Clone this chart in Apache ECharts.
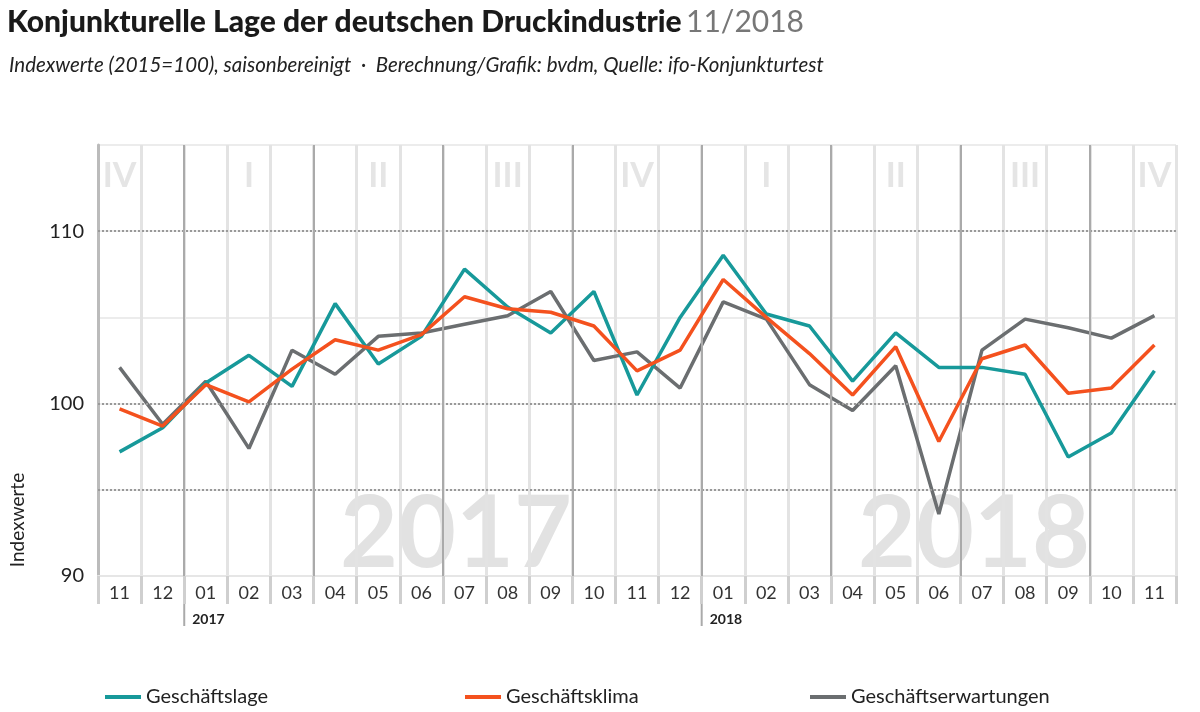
<!DOCTYPE html>
<html>
<head>
<meta charset="utf-8">
<script src="https://cdn.jsdelivr.net/npm/echarts@6/dist/echarts.min.js"></script>
<style>html,body{margin:0;padding:0;background:#fff}#chart{width:1200px;height:712px}</style>
</head>
<body>
<div id="chart"></div>
<script>
// Monate 11/2016 - 11/2018
const months = ['11', '12', '01', '02', '03', '04', '05', '06', '07', '08', '09', '10', '11', '12',
  '01', '02', '03', '04', '05', '06', '07', '08', '09', '10', '11']
const lage = [97.2, 98.6, 101.2, 102.8, 101.0, 105.8, 102.3, 103.9, 107.8, 105.6, 104.1, 106.5, 100.5, 105.0,
  108.6, 105.2, 104.5, 101.3, 104.1, 102.1, 102.1, 101.7, 96.9, 98.3, 101.9]
const klima = [99.7, 98.7, 101.1, 100.1, 102.0, 103.7, 103.1, 104.0, 106.2, 105.5, 105.3, 104.5, 101.9, 103.1,
  107.2, 105.0, 102.9, 100.5, 103.3, 97.8, 102.6, 103.4, 100.6, 100.9, 103.4]
const erwartung = [102.1, 98.8, 101.3, 97.4, 103.1, 101.7, 103.9, 104.1, 104.6, 105.1, 106.5, 102.5, 103.0, 100.9,
  105.9, 104.9, 101.1, 99.6, 102.2, 93.6, 103.1, 104.9, 104.4, 103.8, 105.1]
const quarters = ['IV', 'I', 'II', 'III', 'IV', 'I', 'II', 'III', 'IV']
const quarterCenters = [0.5, 3.5, 6.5, 9.5, 12.5, 15.5, 18.5, 21.5, 24.5]
const quarterBounds = [2, 5, 8, 11, 14, 17, 20, 23]
const years = [{ name: '2017', at: 2 }, { name: '2018', at: 14 }]

const font = 'Lato, "Noto Sans", sans-serif'
const myEchart = echarts.init(document.querySelector('#chart'))

const option = {
  animation: false,
  textStyle: { fontFamily: font },
  title: [
    {
      text: '{b|Konjunkturelle Lage der deutschen Druckindustrie} {l|11/2018}',
      left: 2,
      top: 2,
      textStyle: {
        rich: {
          b: { fontSize: 30, fontWeight: 900, color: '#1a1a1a', fontFamily: font },
          l: { fontSize: 30, fontWeight: 'normal', color: '#777', fontFamily: font },
        },
      },
    },
    {
      text: 'Indexwerte (2015=100), saisonbereinigt  ·  Berechnung/Grafik: bvdm, Quelle: ifo-Konjunkturtest',
      left: 4,
      top: 50,
      textStyle: { fontSize: 20.5, fontStyle: 'italic', fontWeight: 'normal', color: '#222', fontFamily: font },
    },
  ],
  graphic: [
    { type: 'text', left: 340, top: 485, z: 0, style: { text: '2017', fontSize: 100, fontWeight: 'bold', fill: '#e2e2e2', fontFamily: font } },
    { type: 'text', left: 858, top: 485, z: 0, style: { text: '2018', fontSize: 100, fontWeight: 'bold', fill: '#e2e2e2', fontFamily: font } },
    {
      type: 'text', x: 18, y: 520, rotation: Math.PI / 2,
      style: { text: 'Indexwerte', fontSize: 19, fill: '#222', fontFamily: font, textAlign: 'center', textVerticalAlign: 'middle' },
    },
  ],
  grid: { left: 98, right: 24, top: 145, bottom: 136 },
  legend: [
    { data: ['Geschäftslage'], left: 100, top: 682 },
    { data: ['Geschäftsklima'], left: 460, top: 682 },
    { data: ['Geschäftserwartungen'], left: 805, top: 682 },
  ].map((l) => ({
    ...l,
    icon: 'rect',
    itemWidth: 36,
    itemHeight: 4,
    itemGap: 14,
    textStyle: { fontSize: 20, color: '#222', fontFamily: font },
  })),
  xAxis: [
    {
      type: 'category',
      data: months,
      boundaryGap: true,
      axisLine: { show: true, lineStyle: { color: '#e6e6e6', width: 2 } },
      axisTick: { show: true, interval: 0, length: 28, lineStyle: { color: '#cfcfcf', width: 3 } },
      axisLabel: { interval: 0, fontSize: 18, color: '#333', margin: 8 },
      splitLine: { show: true, interval: 0, lineStyle: { color: '#e3e3e3', width: 3 } },
    },
    { type: 'value', min: 0, max: 25, show: false },
  ],
  yAxis: {
    type: 'value',
    min: 90,
    max: 115,
    interval: 5,
    axisLine: { show: true, lineStyle: { color: '#bbb', width: 3 } },
    axisTick: { show: false },
    axisLabel: {
      fontSize: 20,
      color: '#222',
      margin: 14,
      formatter: (v) => (v % 10 === 0 && v < 115 ? v : ''),
    },
    splitLine: { lineStyle: { color: '#ececec', width: 2 } },
  },
  series: [
    {
      name: 'Geschäftslage', type: 'line', data: lage, symbol: 'none', z: 5,
      lineStyle: { width: 3.5, color: '#17999a' }, itemStyle: { color: '#17999a' },
      markLine: {
        silent: true, symbol: 'none', label: { show: false },
        lineStyle: { type: 'dotted', color: '#999', width: 2 },
        data: [{ yAxis: 95 }, { yAxis: 100 }, { yAxis: 110 }],
      },
    },
    { name: 'Geschäftsklima', type: 'line', data: klima, symbol: 'none', z: 6, lineStyle: { width: 3.5, color: '#f4511e' }, itemStyle: { color: '#f4511e' } },
    { name: 'Geschäftserwartungen', type: 'line', data: erwartung, symbol: 'none', z: 4, lineStyle: { width: 3.5, color: '#6b6e70' }, itemStyle: { color: '#6b6e70' } },
    {
      type: 'scatter',
      xAxisIndex: 1,
      symbolSize: 0,
      silent: true,
      z: 1,
      data: quarters.map((q, i) => ({ value: [quarterCenters[i], 113.2], name: q })),
      label: { show: true, formatter: (p) => p.name, fontSize: 34, fontWeight: 'bold', color: '#dedede', position: 'inside' },
      markLine: {
        silent: true, symbol: 'none', label: { show: false },
        lineStyle: { type: 'solid', color: '#aaa', width: 2 },
        data: quarterBounds.map((b) => ({ xAxis: b })),
      },
    },
  ],
}
myEchart.setOption(option)

// Jahresmarkierung unterhalb der Achse
const extra = []
years.forEach((y) => {
  const [x, yTop] = myEchart.convertToPixel({ xAxisIndex: 1, yAxisIndex: 0 }, [y.at, 90])
  extra.push({ type: 'line', shape: { x1: x, y1: yTop, x2: x, y2: yTop + 50 }, style: { stroke: '#aaa', lineWidth: 2 } })
  extra.push({ type: 'text', x: x + 8, y: yTop + 36, style: { text: y.name, fontSize: 14, fontWeight: 'bold', fill: '#222', fontFamily: font } })
})
myEchart.setOption({ graphic: option.graphic.concat(extra) })
</script>
</body>
</html>
